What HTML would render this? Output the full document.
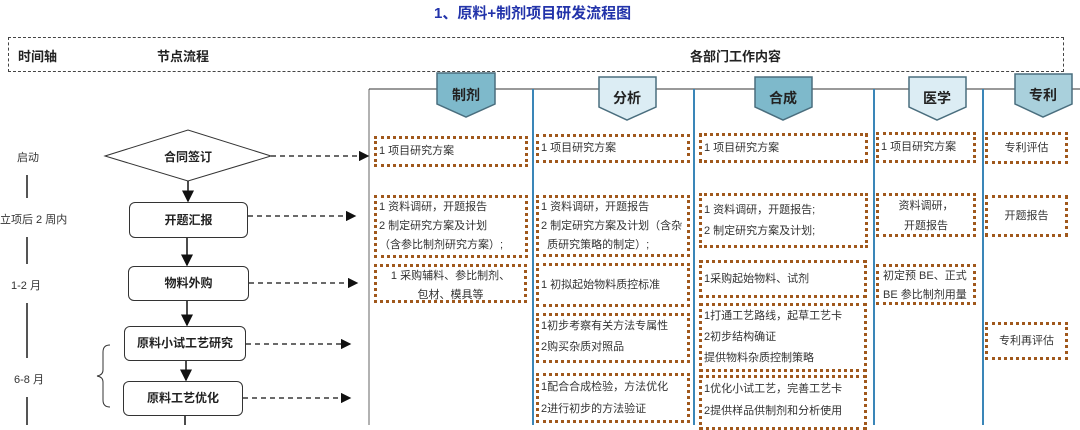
<!DOCTYPE html>
<html><head><meta charset="utf-8">
<style>
body{margin:0;width:1080px;height:425px;overflow:hidden;background:#fff;position:relative;font-family:"Liberation Sans","Noto Sans CJK SC",sans-serif;}
.a{position:absolute;}
.b{position:absolute;box-sizing:border-box;border:3px dotted #a0581c;font-size:11px;color:#333;line-height:21px;padding-left:2px;white-space:nowrap;overflow:hidden;}
.c{text-align:center;padding-left:0;}
.t{position:absolute;font-size:11px;color:#333;white-space:nowrap;}
.n{position:absolute;box-sizing:border-box;border:1px solid #333;border-radius:6px;font-size:12px;font-weight:bold;color:#222;text-align:center;}
</style></head><body>
<div class="a" style="left:434px;top:2px;font-size:15px;font-weight:bold;color:#2233aa;">1、原料+制剂项目研发流程图</div>
<div class="a" style="left:8px;top:37px;width:1056px;height:35px;border:1px dashed #444;box-sizing:border-box;"></div>
<div class="a" style="left:18px;top:46px;font-size:13px;font-weight:bold;color:#222;">时间轴</div>
<div class="a" style="left:157px;top:46px;font-size:13px;font-weight:bold;color:#222;">节点流程</div>
<div class="a" style="left:690px;top:46px;font-size:13px;font-weight:bold;color:#222;">各部门工作内容</div>

<svg class="a" style="left:0;top:0" width="1080" height="425">
<defs><marker id="ar" markerWidth="8" markerHeight="8" refX="7" refY="4" orient="auto"><path d="M0,0 L8,4 L0,8 z" fill="#111"/></marker></defs>
<line x1="369" y1="89" x2="369" y2="425" stroke="#666" stroke-width="1"/>
<line x1="369" y1="89" x2="1080" y2="89" stroke="#333" stroke-width="1"/>
<g stroke="#3a86b8" stroke-width="2">
<line x1="533" y1="89" x2="533" y2="425"/><line x1="694" y1="89" x2="694" y2="425"/>
<line x1="874" y1="89" x2="874" y2="425"/><line x1="983" y1="89" x2="983" y2="425"/>
</g>
<g stroke="#4a6e7e" stroke-width="1.5">
<polygon points="437,73 495,73 495,104 466,117 437,104" fill="#7eb9cb"/>
<polygon points="599,77 656,77 656,107 627,120 599,107" fill="#dcedf4"/>
<polygon points="755,77 812,77 812,107 783,120 755,107" fill="#7eb9cb"/>
<polygon points="909,77 966,77 966,107 937,120 909,107" fill="#dcedf4"/>
<polygon points="1015,74 1072,74 1072,104 1043,117 1015,104" fill="#a9d0dc"/>
</g>
<g font-size="14" font-weight="bold" fill="#222" text-anchor="middle" font-family="Liberation Sans,Noto Sans CJK SC,sans-serif">
<text x="466" y="100">制剂</text><text x="627" y="103">分析</text><text x="783" y="103">合成</text><text x="937" y="103">医学</text><text x="1043" y="100">专利</text>
</g>
<g stroke="#555" stroke-width="2">
<line x1="27" y1="175" x2="27" y2="198"/><line x1="27" y1="237" x2="27" y2="264"/>
<line x1="27" y1="303" x2="27" y2="358"/><line x1="27" y1="397" x2="27" y2="425"/>
</g>
<path d="M110,345 Q103,345 103,352 L103,370 Q103,375 97,376 Q103,377 103,382 L103,400 Q103,407 110,407" fill="none" stroke="#333" stroke-width="1"/>
<polygon points="105,156 188,130 271,156 188,181" fill="#fff" stroke="#333" stroke-width="1"/>
<g stroke="#111" stroke-width="1.5" marker-end="url(#ar)">
<line x1="188" y1="181" x2="188" y2="201"/>
<line x1="187" y1="238" x2="187" y2="265"/>
<line x1="187" y1="301" x2="187" y2="325"/>
<line x1="186" y1="361" x2="186" y2="380"/>
</g>
<line x1="185" y1="416" x2="185" y2="425" stroke="#111" stroke-width="1.5"/>
<g stroke="#111" stroke-width="1.3" stroke-dasharray="5,4" marker-end="url(#ar)">
<line x1="271" y1="156" x2="368" y2="156"/>
<line x1="248" y1="216" x2="355" y2="216"/>
<line x1="249" y1="283" x2="357" y2="283"/>
<line x1="246" y1="344" x2="350" y2="344"/>
<line x1="243" y1="398" x2="350" y2="398"/>
</g>
<text x="188" y="161" font-size="12" font-weight="bold" fill="#222" text-anchor="middle" font-family="Liberation Sans,Noto Sans CJK SC,sans-serif">合同签订</text>
</svg>

<div class="t" style="left:17px;top:149px;">启动</div>
<div class="t" style="left:0px;top:211px;">立项后 2 周内</div>
<div class="t" style="left:11px;top:277px;">1-2 月</div>
<div class="t" style="left:14px;top:371px;">6-8 月</div>

<div class="n" style="left:129px;top:202px;width:119px;height:36px;line-height:34px;">开题汇报</div>
<div class="n" style="left:128px;top:266px;width:121px;height:35px;line-height:33px;">物料外购</div>
<div class="n" style="left:124px;top:326px;width:122px;height:35px;line-height:33px;">原料小试工艺研究</div>
<div class="n" style="left:123px;top:381px;width:120px;height:35px;line-height:33px;">原料工艺优化</div>

<!-- 制剂 -->
<div class="b" style="left:374px;top:136px;width:154px;height:31px;line-height:25px;">1 项目研究方案</div>
<div class="b" style="left:374px;top:195px;width:154px;height:63px;line-height:19px;">1 资料调研，开题报告<br>2 制定研究方案及计划<br>（含参比制剂研究方案）;</div>
<div class="b c" style="left:374px;top:264px;width:153px;height:39px;line-height:19px;">1 采购辅料、参比制剂、<br>包材、模具等</div>
<!-- 分析 -->
<div class="b" style="left:536px;top:134px;width:154px;height:29px;line-height:23px;">1 项目研究方案</div>
<div class="b" style="left:536px;top:195px;width:154px;height:62px;line-height:19px;">1 资料调研，开题报告<br>2 制定研究方案及计划（含杂<br>&nbsp;&nbsp;质研究策略的制定）;</div>
<div class="b" style="left:536px;top:263px;width:154px;height:44px;line-height:38px;">1 初拟起始物料质控标准</div>
<div class="b" style="left:536px;top:313px;width:154px;height:50px;line-height:21px;">1初步考察有关方法专属性<br>2购买杂质对照品</div>
<div class="b" style="left:536px;top:373px;width:154px;height:50px;line-height:22px;">1配合合成检验，方法优化<br>2进行初步的方法验证</div>
<!-- 合成 -->
<div class="b" style="left:699px;top:133px;width:169px;height:30px;line-height:24px;">1 项目研究方案</div>
<div class="b" style="left:699px;top:193px;width:169px;height:55px;line-height:21px;padding-top:4px;">1 资料调研，开题报告;<br>2 制定研究方案及计划;</div>
<div class="b" style="left:699px;top:260px;width:168px;height:38px;line-height:32px;">1采购起始物料、试剂</div>
<div class="b" style="left:699px;top:303px;width:168px;height:69px;line-height:21px;">1打通工艺路线，起草工艺卡<br>2初步结构确证<br>提供物料杂质控制策略</div>
<div class="b" style="left:699px;top:375px;width:168px;height:55px;line-height:22px;">1优化小试工艺，完善工艺卡<br>2提供样品供制剂和分析使用</div>
<!-- 医学 -->
<div class="b" style="left:876px;top:132px;width:100px;height:31px;line-height:25px;">1 项目研究方案</div>
<div class="b c" style="left:876px;top:193px;width:100px;height:44px;line-height:20px;">资料调研，<br>开题报告</div>
<div class="b" style="left:876px;top:264px;width:100px;height:41px;line-height:19px;padding-left:4px;">初定预 BE、正式<br>BE 参比制剂用量</div>
<!-- 专利 -->
<div class="b c" style="left:985px;top:132px;width:83px;height:32px;line-height:26px;">专利评估</div>
<div class="b c" style="left:985px;top:195px;width:83px;height:42px;line-height:36px;">开题报告</div>
<div class="b c" style="left:985px;top:322px;width:83px;height:38px;line-height:32px;">专利再评估</div>
</body></html>
